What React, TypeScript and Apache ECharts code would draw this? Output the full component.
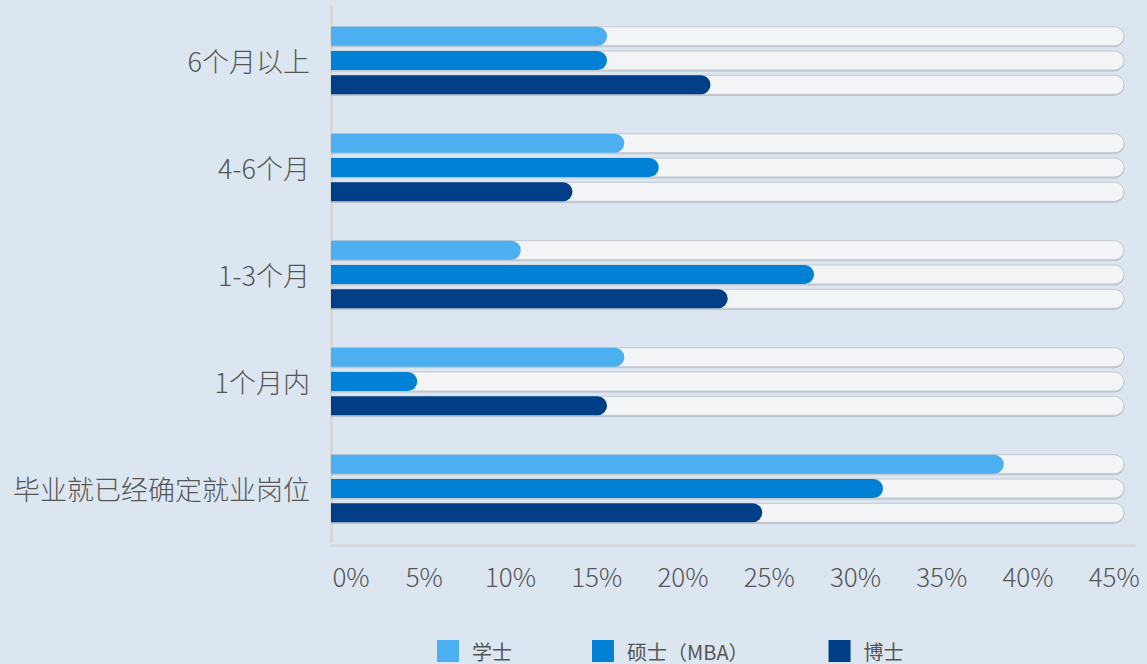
import React, { useEffect, useRef } from "react";
import * as echarts from "echarts";

// Time taken to find a job after graduation, share of graduates per degree level
const categories = ["6个月以上", "4-6个月", "1-3个月", "1个月内", "毕业就已经确定就业岗位"];
const seriesNames = ["学士", "硕士（MBA）", "博士"];
const bachelor = [16, 17, 11, 17, 39];
const master = [16, 19, 28, 5, 32];
const doctor = [22, 14, 23, 16, 25];
// Length of the light track drawn behind each bar
const trackValue = 46;
const xMax = 46.55;
const xInterval = 5;

const colors = ["#4caff0", "#0181d6", "#003f87"];
const FONT = '"Noto Sans CJK SC", "Noto Sans", sans-serif';

export default function App() {
  const ref = useRef<HTMLDivElement>(null);

  useEffect(() => {
    if (!ref.current) return;
    const chart = echarts.init(ref.current, null, { renderer: "svg" });

    const values = [bachelor, master, doctor];

    const trackSeries = values.map((_, i) => ({
      name: "track" + i,
      type: "bar",
      yAxisIndex: 1,
      silent: true,
      barWidth: 20,
      barGap: "21.5%",
      z: 1,
      data: categories.map(() => trackValue),
      itemStyle: {
        color: "#f3f4f6",
        borderColor: "#c2c8cf",
        borderWidth: 1,
        borderRadius: [0, 10, 10, 0],
        shadowColor: "rgba(60,70,90,0.25)",
        shadowOffsetY: 1,
        shadowBlur: 1,
      },
    }));

    const dataSeries = values.map((arr, i) => ({
      name: seriesNames[i],
      type: "bar",
      yAxisIndex: 0,
      barWidth: 19,
      barGap: "28%",
      z: 2,
      data: arr,
      itemStyle: {
        color: colors[i],
        borderRadius: [0, 10, 10, 0],
      },
    }));

    const labelText = { fontFamily: FONT, fontSize: 26, color: "#555", fontWeight: 300 };

    chart.setOption({
      animation: false,
      backgroundColor: "#dce6f0",
      textStyle: { fontFamily: FONT },
      grid: { left: 331, right: 13, top: 7, bottom: 122, containLabel: false },
      legend: {
        data: seriesNames,
        left: 437,
        top: 640,
        padding: 0,
        itemWidth: 22,
        itemHeight: 22,
        itemGap: 80,
        icon: "rect",
        textStyle: {
          fontFamily: FONT,
          fontSize: 20,
          color: "#555",
          padding: [0, 0, 0, 8],
        },
      },
      xAxis: {
        type: "value",
        min: 0,
        max: xMax,
        interval: xInterval,
        offset: 3,
        axisLine: { show: true, lineStyle: { color: "#d6d9dc", width: 3 } },
        axisTick: { show: false },
        splitLine: { show: false },
        axisLabel: {
          ...labelText,
          margin: 17,
          padding: [0, 0, 0, 14],
          rich: { first: { ...labelText, padding: [0, 0, 0, 26] } },
          formatter: (v: number) => {
            if (Math.abs(v % xInterval) > 1e-6) return "";
            return v === 0 ? "{first|" + v + "%}" : v + "%";
          },
        },
      },
      yAxis: [
        {
          type: "category",
          data: categories,
          inverse: true,
          axisLine: { show: true, lineStyle: { color: "#d6d9dc", width: 3 } },
          axisTick: { show: false },
          axisLabel: { ...labelText, fontSize: 27, margin: 21 },
        },
        {
          type: "category",
          data: categories,
          inverse: true,
          show: false,
        },
      ],
      series: [...trackSeries, ...dataSeries],
    });

    return () => chart.dispose();
  }, []);

  return (
    <div
      ref={ref}
      style={{ position: "fixed", left: 0, top: 0, width: 1147, height: 664 }}
    />
  );
}
